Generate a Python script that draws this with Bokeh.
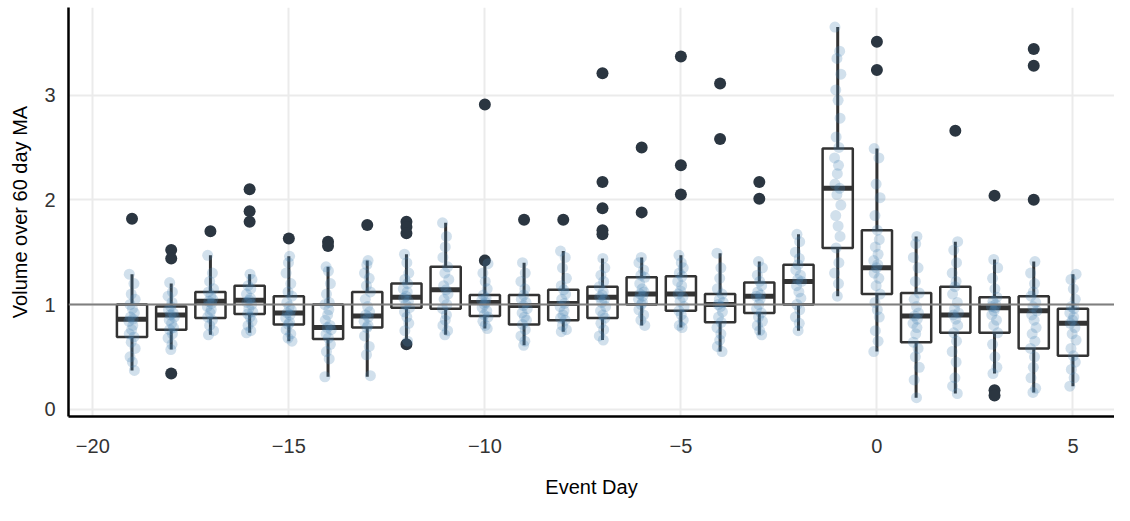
from bokeh.plotting import figure
from bokeh.models import Range1d, FixedTicker, ColumnDataSource, Span
from bokeh.embed import file_html
from bokeh.resources import INLINE

# ---------------- data ----------------
days = list(range(-19, 6))
q1  = [0.69,0.76,0.87,0.91,0.81,0.67,0.78,0.97,0.96,0.89,0.81,0.85,0.87,1.00,0.94,0.83,0.92,1.00,1.54,1.10,0.64,0.73,0.73,0.58,0.51]
med = [0.86,0.90,1.03,1.04,0.92,0.78,0.89,1.07,1.14,1.02,0.99,1.01,1.07,1.10,1.10,1.00,1.08,1.22,2.11,1.35,0.89,0.90,0.97,0.94,0.82]
q3  = [1.00,0.98,1.12,1.18,1.08,1.00,1.12,1.20,1.36,1.09,1.09,1.14,1.17,1.26,1.27,1.10,1.21,1.38,2.49,1.71,1.11,1.17,1.07,1.08,0.96]
lo  = [0.37,0.57,0.71,0.73,0.65,0.31,0.31,0.64,0.71,0.77,0.61,0.74,0.66,0.80,0.78,0.55,0.71,0.75,1.08,0.55,0.11,0.15,0.34,0.16,0.22]
hi  = [1.29,1.20,1.47,1.29,1.46,1.36,1.42,1.48,1.78,1.40,1.40,1.51,1.44,1.45,1.47,1.49,1.41,1.67,3.65,2.49,1.65,1.60,1.43,1.41,1.29]

out_day = [-19,-18,-18,-18,-17,-16,-16,-16,-15,-14,-14,-13,-12,-12,-12,-12,
           -10,-10,-9,-8,-7,-7,-7,-7,-7,-6,-6,-5,-5,-5,-4,-4,-3,-3,
           0,0,2,3,3,3,4,4,4]
out_val = [1.82,1.52,1.44,0.34,1.70,2.10,1.89,1.79,1.63,1.60,1.56,1.76,1.79,1.74,1.68,0.62,
           2.91,1.42,1.81,1.81,3.21,2.17,1.92,1.71,1.67,2.50,1.88,3.37,2.33,2.05,3.11,2.58,2.17,2.01,
           3.51,3.24,2.66,2.04,0.18,0.13,3.44,3.28,2.00]

pts = {
    -19: [1.29,1.20,1.10,1.05,1.00,0.96,0.92,0.88,0.86,0.84,0.80,0.76,0.72,0.69,0.64,0.58,0.50,0.45,0.37],
    -18: [1.21,1.12,1.08,1.02,0.98,0.95,0.92,0.90,0.88,0.85,0.82,0.78,0.76,0.72,0.68,0.62,0.57],
    -17: [1.47,1.30,1.22,1.15,1.12,1.08,1.05,1.03,1.01,0.98,0.95,0.92,0.88,0.85,0.80,0.75,0.71],
    -16: [1.29,1.24,1.18,1.15,1.10,1.06,1.04,1.02,1.00,0.96,0.93,0.91,0.88,0.84,0.80,0.75,0.73],
    -15: [1.46,1.40,1.30,1.20,1.12,1.08,1.02,0.98,0.95,0.92,0.90,0.87,0.83,0.81,0.76,0.72,0.68,0.65],
    -14: [1.36,1.32,1.20,1.10,1.02,1.00,0.95,0.90,0.85,0.80,0.78,0.76,0.72,0.68,0.62,0.55,0.48,0.31],
    -13: [1.42,1.38,1.30,1.25,1.18,1.12,1.05,0.98,0.93,0.90,0.88,0.84,0.80,0.78,0.70,0.60,0.52,0.32],
    -12: [1.48,1.40,1.30,1.24,1.20,1.15,1.12,1.08,1.06,1.03,1.00,0.97,0.93,0.88,0.82,0.75,0.65],
    -11: [1.78,1.65,1.55,1.45,1.36,1.30,1.24,1.18,1.14,1.10,1.05,1.00,0.96,0.90,0.85,0.80,0.75,0.71],
    -10: [1.39,1.30,1.22,1.15,1.09,1.06,1.04,1.02,1.00,0.97,0.94,0.90,0.88,0.84,0.80,0.77],
    -9:  [1.40,1.30,1.22,1.15,1.09,1.05,1.02,0.99,0.96,0.92,0.88,0.85,0.81,0.76,0.70,0.65,0.61],
    -8:  [1.51,1.45,1.35,1.25,1.18,1.14,1.10,1.05,1.01,0.98,0.94,0.90,0.87,0.85,0.80,0.76,0.74],
    -7:  [1.44,1.35,1.28,1.22,1.17,1.12,1.09,1.07,1.05,1.02,0.98,0.94,0.90,0.87,0.82,0.76,0.70,0.66],
    -6:  [1.45,1.40,1.33,1.28,1.26,1.20,1.15,1.12,1.10,1.08,1.05,1.02,1.00,0.95,0.90,0.85,0.80],
    -5:  [1.47,1.40,1.35,1.30,1.27,1.22,1.18,1.13,1.10,1.07,1.03,0.98,0.94,0.90,0.85,0.80,0.78],
    -4:  [1.49,1.35,1.25,1.15,1.10,1.05,1.02,1.00,0.98,0.93,0.88,0.83,0.78,0.72,0.66,0.60,0.55],
    -3:  [1.41,1.35,1.28,1.22,1.18,1.12,1.09,1.08,1.05,1.00,0.96,0.92,0.88,0.84,0.80,0.75,0.71],
    -2:  [1.67,1.60,1.50,1.44,1.38,1.33,1.28,1.24,1.22,1.18,1.12,1.06,1.00,0.95,0.88,0.82,0.75],
    -1:  [3.65,3.42,3.35,3.20,3.05,2.95,2.78,2.60,2.50,2.40,2.33,2.25,2.15,2.11,2.05,1.95,1.85,1.75,1.65,1.54,1.40,1.30,1.20,1.08],
    0:   [2.49,2.40,2.15,2.02,1.85,1.71,1.62,1.55,1.48,1.42,1.38,1.35,1.30,1.25,1.18,1.10,1.02,0.95,0.88,0.75,0.65,0.55],
    1:   [1.65,1.58,1.45,1.35,1.22,1.11,1.05,0.98,0.92,0.89,0.86,0.82,0.78,0.72,0.64,0.58,0.50,0.40,0.28,0.11],
    2:   [1.60,1.52,1.40,1.30,1.22,1.17,1.10,1.02,0.96,0.92,0.90,0.86,0.80,0.73,0.65,0.55,0.45,0.30,0.22,0.15],
    3:   [1.43,1.35,1.25,1.15,1.07,1.03,1.00,0.98,0.97,0.94,0.90,0.85,0.80,0.73,0.62,0.50,0.40,0.34],
    4:   [1.41,1.30,1.20,1.12,1.08,1.02,0.98,0.94,0.90,0.85,0.78,0.72,0.65,0.58,0.50,0.40,0.30,0.20,0.16],
    5:   [1.29,1.24,1.15,1.05,0.98,0.96,0.92,0.88,0.85,0.82,0.78,0.72,0.66,0.58,0.51,0.45,0.38,0.30,0.22],
}
jit = [-0.07, 0.05, -0.02, 0.08, -0.05, 0.01, 0.06, -0.04, 0.03, -0.08, 0.02, -0.01]

x_ticks = [-20, -15, -10, -5, 0, 5]
y_ticks = [0, 1, 2, 3]

# ---------------- figure ----------------
FONT = "Liberation Sans"
BW = 0.77
DARK = "#333333"

p = figure(width=1114, height=505, output_backend="svg", toolbar_location=None,
           x_range=Range1d(-20.62, 6.06), y_range=Range1d(-0.0697, 3.837),
           min_border_left=68, min_border_top=7, min_border_right=0, min_border_bottom=89)
p.outline_line_color = None
p.background_fill_color = "white"
p.border_fill_color = "white"

for ax in (p.xaxis[0], p.yaxis[0]):
    ax.axis_line_color = "black"
    ax.axis_line_width = 2.5
    ax.major_tick_line_color = None
    ax.minor_tick_line_color = None
    ax.major_tick_out = 0
    ax.major_tick_in = 0
    ax.major_label_text_font = FONT
    ax.major_label_text_font_size = "20px"
    ax.major_label_text_color = "#333333"
    ax.axis_label_text_font = FONT
    ax.axis_label_text_font_size = "20px"
    ax.axis_label_text_font_style = "normal"
    ax.axis_label_text_color = "black"

p.xaxis.ticker = FixedTicker(ticks=x_ticks)
p.xaxis.major_label_overrides = {t: str(t).replace("-", "\u2212") for t in x_ticks}
p.yaxis.ticker = FixedTicker(ticks=y_ticks)
p.xaxis.axis_label = "Event Day"
p.yaxis.axis_label = "Volume over 60 day MA"
p.xaxis.major_label_standoff = 22
p.xaxis.axis_label_standoff = 20
p.yaxis.major_label_standoff = 13
p.yaxis.axis_label_standoff = 10

p.xgrid.grid_line_color = "#ebebeb"
p.xgrid.grid_line_width = 2
p.ygrid.grid_line_color = "#ebebeb"
p.ygrid.grid_line_width = 2

# boxes
src = ColumnDataSource(dict(
    day=days, q1=q1, med=med, q3=q3, lo=lo, hi=hi,
    left=[d - BW / 2 for d in days], right=[d + BW / 2 for d in days]))
p.vbar(x="day", width=BW, bottom="q1", top="q3", source=src,
       fill_color=None, line_color=DARK, line_width=2.5)
p.segment(x0="day", y0="q3", x1="day", y1="hi", source=src, line_color=DARK, line_width=3)
p.segment(x0="day", y0="lo", x1="day", y1="q1", source=src, line_color=DARK, line_width=3)
p.segment(x0="left", y0="med", x1="right", y1="med", source=src, line_color=DARK, line_width=5)

# reference line at 1
p.add_layout(Span(location=1, dimension="width", line_color="#7f7f7f", line_width=2))

# outliers
p.scatter(out_day, out_val, size=12, fill_color="#2b3641", line_color=None)

# jittered points
px, py = [], []
k = 0
for d in days:
    for v in pts[d]:
        px.append(d + jit[k % len(jit)])
        py.append(v)
        k += 1
p.scatter(px, py, size=11, fill_color="#4682B4", fill_alpha=0.25, line_color=None)

open("out.html", "w").write(file_html(p, INLINE))
